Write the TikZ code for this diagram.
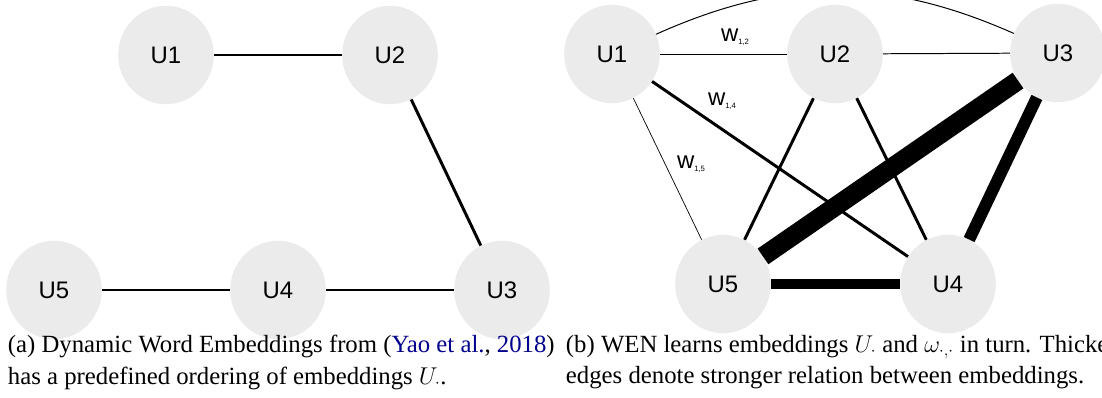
\documentclass[tikz,border=0pt]{standalone}
\usepackage{fontspec}
\setmainfont{Liberation Serif}
\newfontfamily\arialfont{Liberation Sans}
\usepackage{xcolor}
\usepackage{tikz}
\usetikzlibrary{shapes.geometric,positioning}
\definecolor{nodegray}{RGB}{235,235,235}
\definecolor{citeblue}{RGB}{0,0,140}
\tikzset{
    every node/.style={font=\arialfont\fontsize{17}{20}\selectfont},
    emb/.style={ellipse,fill=nodegray,minimum width=68pt,minimum height=70pt,inner sep=0pt},
    capt/.style={anchor=north west,align=left,font=\fontsize{17.6}{22.5}\selectfont}
}
\newcommand{\wlab}[1]{w\raisebox{-2.5pt}{\fontsize{5.5}{6}\selectfont #1}}

\begin{document}
\begin{tikzpicture}[x=0.025cm,y=-0.025cm]
            \useasboundingbox (0,0) rectangle (1102,398);
            \clip (0,0) rectangle (1102,398);

            % Draw left chain of embeddings
            \node[emb] (a1) at (166,55) {U1};
            \node[emb] (a2) at (390,55) {U2};
            \node[emb] (a3) at (502,290) {U3};
            \node[emb] (a4) at (278,290) {U4};
            \node[emb] (a5) at (54,290) {U5};
            \draw[line width=2.1pt] (a1) -- (a2);
            \draw[line width=2.1pt] (a2) -- (a3);
            \draw[line width=2.1pt] (a3) -- (a4);
            \draw[line width=2.1pt] (a4) -- (a5);

            % Draw fully connected embeddings
            \node[emb] (b1) at (612,54) {U1};
            \node[emb] (b2) at (835,54) {U2};
            \node[emb] (b3) at (1058,53) {U3};
            \node[emb] (b4) at (948,284) {U4};
            \node[emb] (b5) at (723,284) {U5};
            \draw[line width=0.7pt] (b1) -- (b2);
            \draw[line width=0.7pt] (b2) -- (b3);
            \draw[line width=0.7pt] (b1) to[bend left=24] (b3);
            \draw[line width=0.5pt] (b1) -- (b5);
            \draw[line width=2.1pt] (b1) -- (b4);
            \draw[line width=2.1pt] (b2) -- (b5);
            \draw[line width=2.1pt] (b2) -- (b4);
            \draw[line width=7pt] (b5) -- (b4);
            \draw[line width=8.5pt] (b3) -- (b4);
            \draw[line width=13.5pt] (b3) -- (b5);

            % Add weight labels
            \node (w12) at (735,37) {\wlab{1,2}};
            \node (w14) at (722,101) {\wlab{1,4}};
            \node (w15) at (691,164) {\wlab{1,5}};

            % Add captions
            \node[capt] (ca) at (3,330) {(a) Dynamic Word Embeddings from (\textcolor{citeblue}{Yao et al.}, \textcolor{citeblue}{2018})\\has a predefined ordering of embeddings $U_{\cdot}$.};
            \node[capt] (cb) at (561,330) {(b) WEN learns embeddings $U_{\cdot}$ and $\omega_{\cdot,\cdot}$ in turn. Thicker\\edges denote stronger relation between embeddings.};
        \end{tikzpicture}
\end{document}
